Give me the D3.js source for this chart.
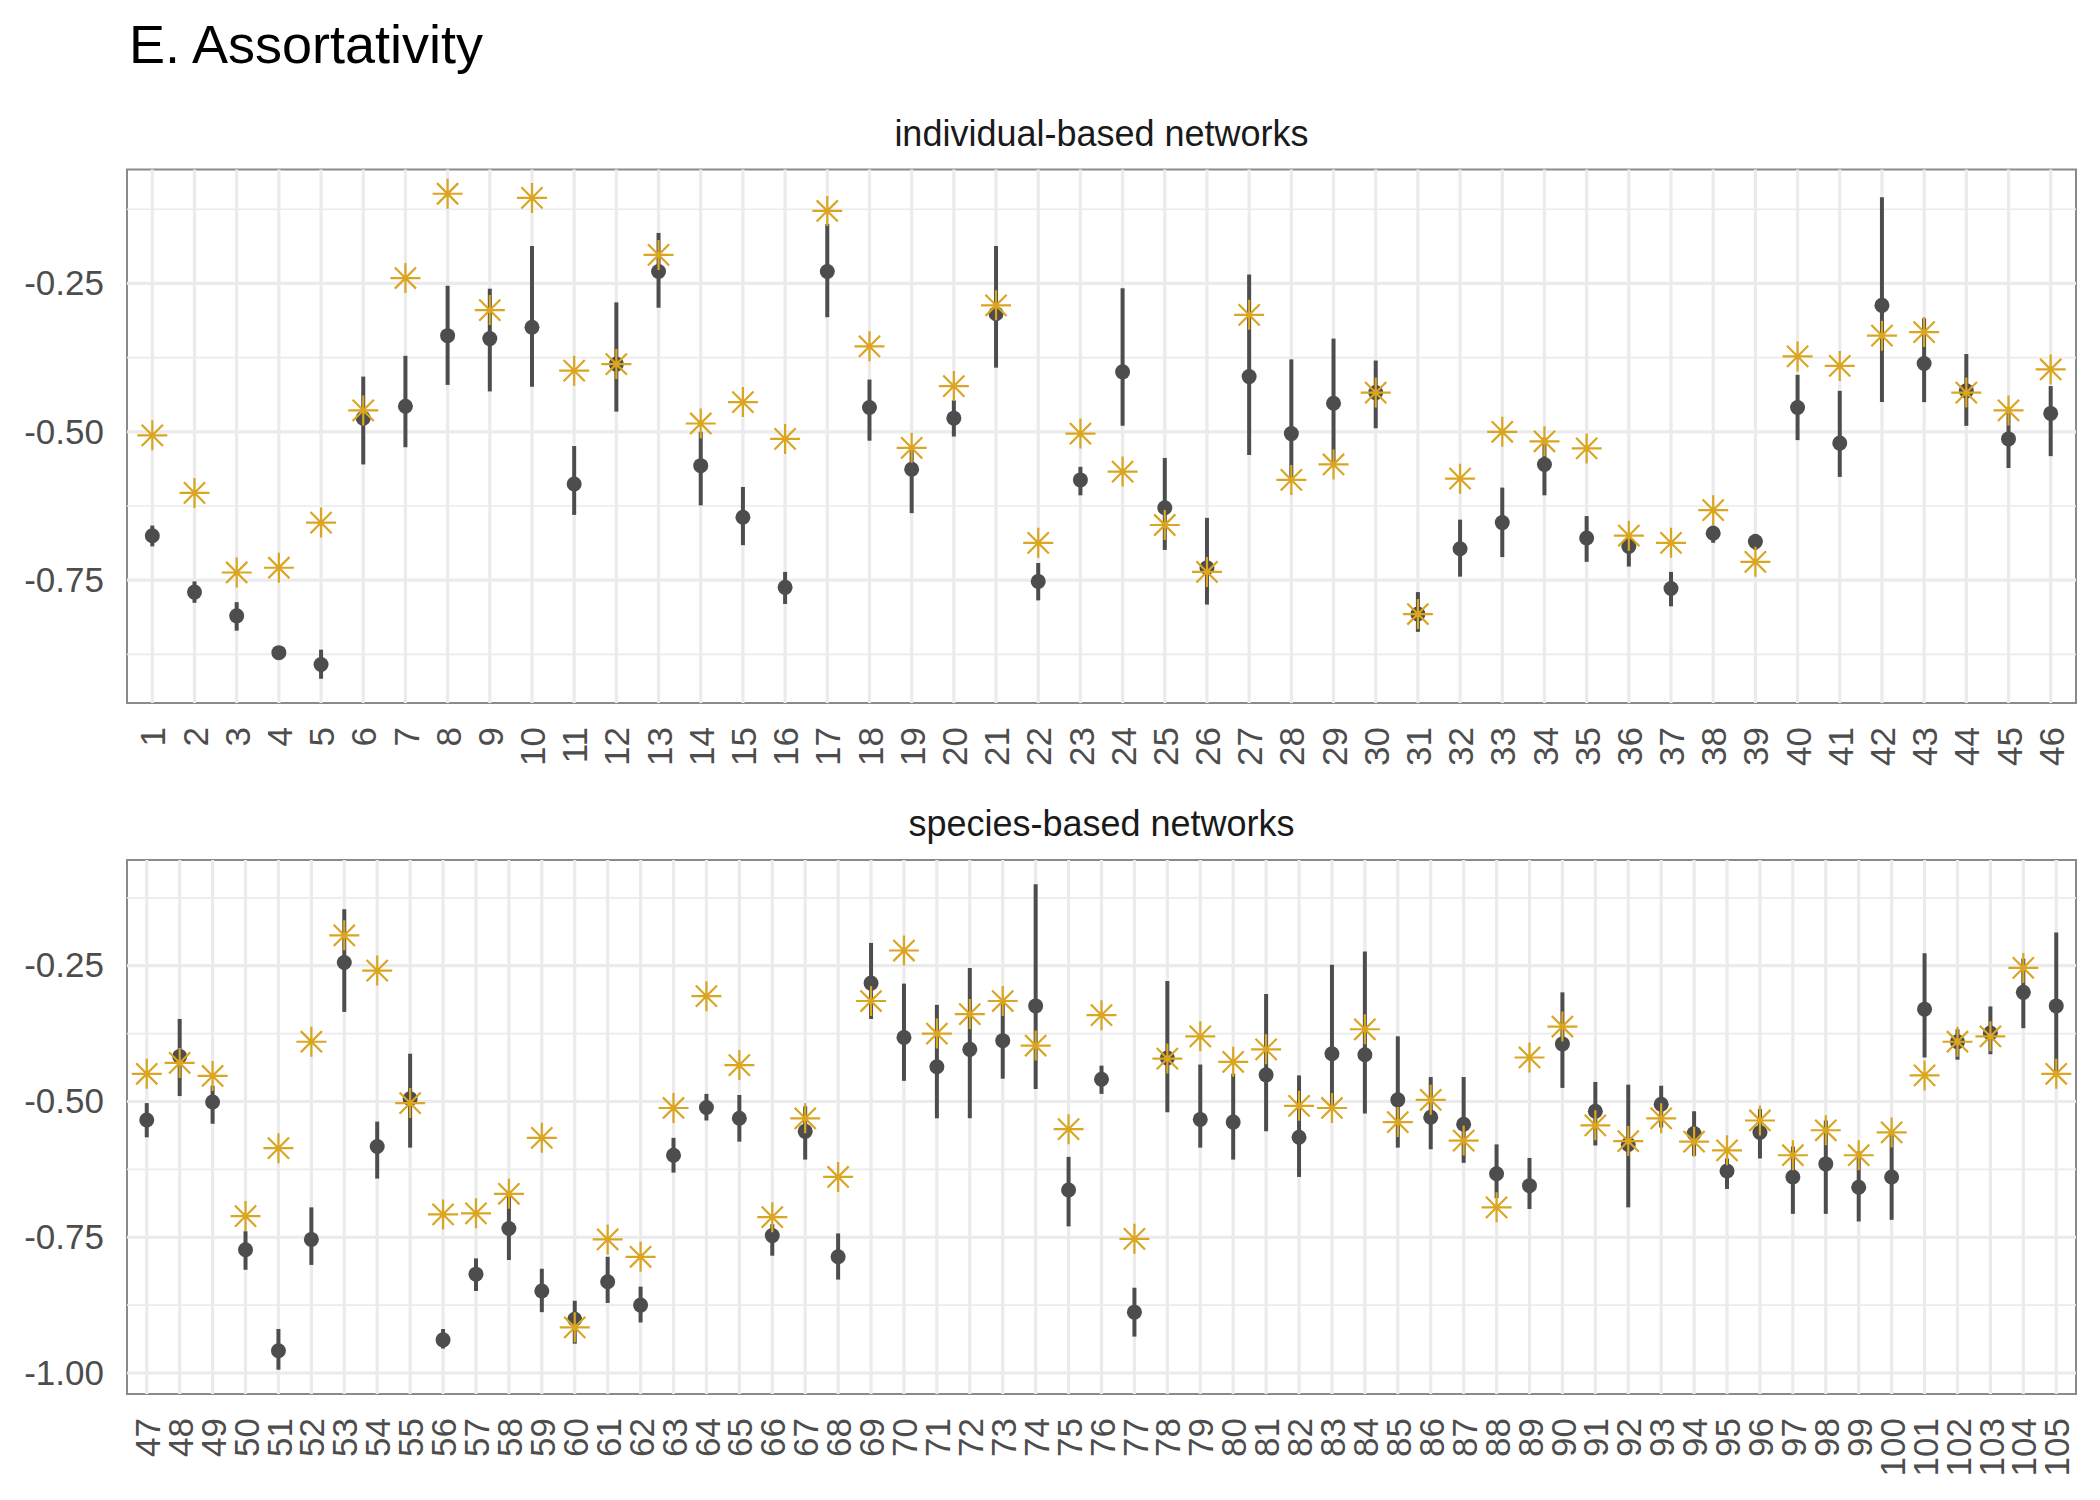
<!DOCTYPE html>
<html>
<head>
<meta charset="utf-8">
<script src="https://cdn.jsdelivr.net/npm/d3@7"></script>
<style>
  html, body { margin: 0; padding: 0; background: #fff; }
  svg { display: block; font-family: "Liberation Sans", Arial, Helvetica, sans-serif; }
</style>
</head>
<body>
<svg id="chart" width="2100" height="1500"></svg>
<script>
// ---------- DATA ----------
const title = "E. Assortativity";
const panelTitles = ["individual-based networks", "species-based networks"];

const catsTop = ["1","2","3","4","5","6","7","8","9","10","11","12","13","14","15","16","17","18","19","20","21","22","23","24","25","26","27","28","29","30","31","32","33","34","35","36","37","38","39","40","41","42","43","44","45","46"];
const meanTop = [-0.675,-0.770,-0.810,-0.872,-0.892,-0.477,-0.457,-0.338,-0.343,-0.324,-0.588,-0.386,-0.230,-0.557,-0.644,-0.762,-0.230,-0.459,-0.563,-0.477,-0.301,-0.752,-0.581,-0.399,-0.628,-0.729,-0.407,-0.503,-0.452,-0.434,-0.807,-0.697,-0.653,-0.555,-0.679,-0.693,-0.764,-0.671,-0.685,-0.459,-0.519,-0.287,-0.385,-0.431,-0.512,-0.469];
const loTop   = [-0.693,-0.788,-0.835,-0.882,-0.916,-0.555,-0.526,-0.421,-0.432,-0.424,-0.640,-0.466,-0.291,-0.624,-0.691,-0.790,-0.307,-0.515,-0.637,-0.508,-0.392,-0.784,-0.607,-0.490,-0.699,-0.791,-0.539,-0.581,-0.557,-0.494,-0.837,-0.744,-0.711,-0.607,-0.719,-0.727,-0.794,-0.687,-0.699,-0.514,-0.576,-0.450,-0.450,-0.490,-0.561,-0.541];
const hiTop   = [-0.658,-0.752,-0.787,-0.864,-0.867,-0.407,-0.372,-0.254,-0.259,-0.187,-0.524,-0.282,-0.165,-0.500,-0.593,-0.736,-0.150,-0.412,-0.526,-0.447,-0.187,-0.721,-0.559,-0.258,-0.544,-0.645,-0.235,-0.378,-0.343,-0.380,-0.770,-0.648,-0.594,-0.510,-0.642,-0.671,-0.736,-0.658,-0.672,-0.404,-0.431,-0.105,-0.309,-0.369,-0.459,-0.423];
const starTop = [-0.506,-0.603,-0.737,-0.729,-0.653,-0.464,-0.241,-0.099,-0.295,-0.106,-0.397,-0.386,-0.202,-0.486,-0.450,-0.512,-0.128,-0.356,-0.527,-0.423,-0.287,-0.687,-0.503,-0.567,-0.657,-0.736,-0.303,-0.581,-0.555,-0.434,-0.807,-0.579,-0.500,-0.516,-0.528,-0.675,-0.687,-0.632,-0.719,-0.373,-0.389,-0.338,-0.332,-0.434,-0.464,-0.395];

const catsBot = ["47","48","49","50","51","52","53","54","55","56","57","58","59","60","61","62","63","64","65","66","67","68","69","70","71","72","73","74","75","76","77","78","79","80","81","82","83","84","85","86","87","88","89","90","91","92","93","94","95","96","97","98","99","100","101","102","103","104","105"];
const meanBot = [-0.534,-0.417,-0.501,-0.773,-0.959,-0.754,-0.244,-0.583,-0.495,-0.939,-0.818,-0.734,-0.849,-0.901,-0.832,-0.875,-0.599,-0.511,-0.531,-0.747,-0.555,-0.786,-0.282,-0.382,-0.436,-0.404,-0.388,-0.324,-0.663,-0.459,-0.888,-0.420,-0.533,-0.538,-0.451,-0.566,-0.412,-0.414,-0.497,-0.529,-0.542,-0.633,-0.655,-0.394,-0.518,-0.579,-0.505,-0.559,-0.628,-0.557,-0.639,-0.615,-0.658,-0.639,-0.330,-0.390,-0.374,-0.299,-0.324];
const loBot   = [-0.566,-0.490,-0.541,-0.810,-0.994,-0.801,-0.335,-0.642,-0.585,-0.955,-0.849,-0.792,-0.888,-0.946,-0.871,-0.907,-0.631,-0.535,-0.574,-0.784,-0.607,-0.828,-0.348,-0.462,-0.531,-0.531,-0.458,-0.477,-0.730,-0.486,-0.933,-0.520,-0.585,-0.607,-0.555,-0.639,-0.512,-0.522,-0.585,-0.588,-0.613,-0.678,-0.698,-0.475,-0.581,-0.695,-0.548,-0.600,-0.661,-0.605,-0.707,-0.707,-0.721,-0.718,-0.419,-0.423,-0.413,-0.365,-0.449];
const hiBot   = [-0.503,-0.348,-0.471,-0.739,-0.919,-0.695,-0.146,-0.537,-0.412,-0.919,-0.789,-0.671,-0.808,-0.867,-0.786,-0.841,-0.567,-0.486,-0.488,-0.726,-0.509,-0.743,-0.208,-0.283,-0.322,-0.254,-0.319,-0.100,-0.602,-0.434,-0.843,-0.278,-0.432,-0.449,-0.302,-0.452,-0.248,-0.224,-0.380,-0.455,-0.455,-0.579,-0.604,-0.299,-0.464,-0.469,-0.471,-0.518,-0.605,-0.514,-0.583,-0.535,-0.592,-0.553,-0.227,-0.367,-0.325,-0.237,-0.189];
const starBot = [-0.449,-0.429,-0.453,-0.711,-0.586,-0.390,-0.194,-0.259,-0.503,-0.708,-0.706,-0.670,-0.567,-0.916,-0.754,-0.786,-0.512,-0.306,-0.433,-0.713,-0.531,-0.639,-0.315,-0.222,-0.375,-0.339,-0.315,-0.397,-0.551,-0.341,-0.753,-0.421,-0.380,-0.427,-0.404,-0.508,-0.512,-0.367,-0.538,-0.497,-0.572,-0.695,-0.419,-0.362,-0.544,-0.573,-0.531,-0.574,-0.590,-0.535,-0.599,-0.553,-0.599,-0.557,-0.452,-0.390,-0.380,-0.254,-0.449];

const majorTop = [-0.75, -0.50, -0.25];
const minorTop = [-0.875, -0.625, -0.375, -0.125];
const majorBot = [-1.00, -0.75, -0.50, -0.25];
const minorBot = [-0.875, -0.625, -0.375, -0.125];

// ---------- LAYOUT ----------
const svg = d3.select("#chart");
const left = 127, right = 2076;
const panels = [
  {top: 169.5, bottom: 703, cats: catsTop, mean: meanTop, lo: loTop, hi: hiTop, star: starTop, major: majorTop, minor: minorTop, title: panelTitles[0]},
  {top: 860, bottom: 1394, cats: catsBot, mean: meanBot, lo: loBot, hi: hiBot, star: starBot, major: majorBot, minor: minorBot, title: panelTitles[1]}
];

const DARK = "#4d4d4d";
const GOLD = "#DAA520";
const GRID = "#ebebeb";

svg.append("text")
  .attr("x", 129).attr("y", 63)
  .attr("font-size", 54).attr("fill", "#000")
  .text(title);

panels.forEach(p => {
  const g = svg.append("g");
  const x = d3.scalePoint().domain(p.cats).range([left, right]).padding(0.6);
  const all = p.lo.concat(p.hi, p.star, p.mean);
  const [mn, mx] = d3.extent(all);
  const pad = (mx - mn) * 0.05;
  const y = d3.scaleLinear().domain([mn - pad, mx + pad]).range([p.bottom, p.top]);

  // border (under grid, as in reference)
  g.append("rect")
    .attr("x", left).attr("y", p.top)
    .attr("width", right - left).attr("height", p.bottom - p.top)
    .attr("fill", "none").attr("stroke", "#8a8a8a").attr("stroke-width", 2);

  // minor grid
  g.selectAll(".minor").data(p.minor).join("line")
    .attr("x1", left).attr("x2", right)
    .attr("y1", d => y(d)).attr("y2", d => y(d))
    .attr("stroke", GRID).attr("stroke-width", 1.6);
  // major horizontal grid
  g.selectAll(".majorH").data(p.major).join("line")
    .attr("x1", left).attr("x2", right)
    .attr("y1", d => y(d)).attr("y2", d => y(d))
    .attr("stroke", GRID).attr("stroke-width", 3.2);
  // vertical grid
  g.selectAll(".majorV").data(p.cats).join("line")
    .attr("x1", d => x(d)).attr("x2", d => x(d))
    .attr("y1", p.top).attr("y2", p.bottom)
    .attr("stroke", GRID).attr("stroke-width", 3.2);

  // strip title
  g.append("text")
    .attr("x", (left + right) / 2).attr("y", p.top - 24)
    .attr("text-anchor", "middle").attr("font-size", 36).attr("fill", "#1a1a1a")
    .text(p.title);

  // y axis
  const ya = g.append("g").attr("transform", `translate(${left},0)`)
    .call(d3.axisLeft(y).tickValues(p.major).tickSize(0).tickPadding(23).tickFormat(d => d.toFixed(2)));
  ya.select(".domain").remove();
  ya.selectAll("text").attr("font-size", 35).attr("fill", DARK)
    .attr("font-family", '"Liberation Sans", Arial, sans-serif');

  // x axis
  const xa = g.append("g").attr("transform", `translate(0,${p.bottom})`)
    .call(d3.axisBottom(x).tickSize(0));
  xa.select(".domain").remove();
  xa.selectAll("text")
    .attr("transform", "rotate(-90)")
    .attr("x", -24).attr("y", 0).attr("dy", "0.36em")
    .attr("text-anchor", "end")
    .attr("font-size", 35).attr("fill", DARK)
    .attr("font-family", '"Liberation Sans", Arial, sans-serif');

  const idx = d3.range(p.cats.length);
  // CI lines
  g.selectAll(".ci").data(idx).join("line")
    .attr("x1", i => x(p.cats[i])).attr("x2", i => x(p.cats[i]))
    .attr("y1", i => y(p.lo[i])).attr("y2", i => y(p.hi[i]))
    .attr("stroke", DARK).attr("stroke-width", 4);
  // mean dots
  g.selectAll(".dot").data(idx).join("circle")
    .attr("cx", i => x(p.cats[i])).attr("cy", i => y(p.mean[i]))
    .attr("r", 7.5).attr("fill", DARK);
  // stars (shape 8)
  const r = 15, d = 10.6;
  const starPath = `M${-r},0H${r}M0,${-r}V${r}M${-d},${-d}L${d},${d}M${-d},${d}L${d},${-d}`;
  g.selectAll(".star").data(idx).join("path")
    .attr("transform", i => `translate(${x(p.cats[i])},${y(p.star[i])})`)
    .attr("d", starPath)
    .attr("fill", "none").attr("stroke", GOLD).attr("stroke-width", 2.2);
});
</script>
</body>
</html>
